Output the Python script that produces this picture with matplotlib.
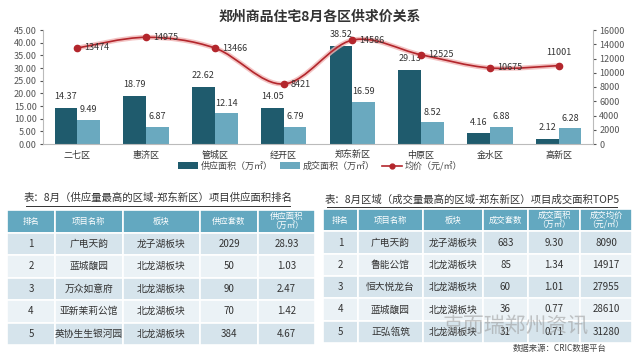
import matplotlib
matplotlib.use('Agg')
import matplotlib.pyplot as plt
import numpy as np
from matplotlib.path import Path
from matplotlib.patches import PathPatch
from matplotlib.lines import Line2D

plt.rcParams['font.family'] = ['Noto Sans CJK SC', 'DejaVu Sans']

# ---- data ----
districts = ['二七区', '惠济区', '管城区', '经开区', '郑东新区', '中原区', '金水区', '高新区']
supply = [14.37, 18.79, 22.62, 14.05, 38.52, 29.13, 4.16, 2.12]
deal = [9.49, 6.87, 12.14, 6.79, 16.59, 8.52, 6.88, 6.28]
price = [13474, 14975, 13466, 8421, 14586, 12525, 10675, 11001]

t1_title = '表：8月（供应量最高的区域-郑东新区）项目供应面积排名'
t1_cols = ['排名', '项目名称', '板块', '供应套数', '供应面积\n（万㎡）']
t1_rank = ['1', '2', '3', '4', '5']
t1_name = ['广电天韵', '蓝城馥园', '万众如意府', '亚新茉莉公馆', '英协生生银河园']
t1_area = ['龙子湖板块', '北龙湖板块', '北龙湖板块', '北龙湖板块', '北龙湖板块']
t1_units = ['2029', '50', '90', '70', '384']
t1_size = ['28.93', '1.03', '2.47', '1.42', '4.67']

t2_title = '表：8月区域（成交量最高的区域-郑东新区）项目成交面积TOP5'
t2_cols = ['排名', '项目名称', '板块', '成交套数', '成交面积\n（万㎡）', '成交均价\n（元/㎡）']
t2_rank = ['1', '2', '3', '4', '5']
t2_name = ['广电天韵', '鲁能公馆', '恒大悦龙台', '蓝城馥园', '正弘瓴筑']
t2_area = ['龙子湖板块', '北龙湖板块', '北龙湖板块', '北龙湖板块', '北龙湖板块']
t2_units = ['683', '85', '60', '36', '31']
t2_size = ['9.30', '1.34', '1.01', '0.77', '0.71']
t2_price = ['8090', '14917', '27955', '28610', '31280']

dark = '#1f5b6d'
light = '#6aa9bf'
red = '#b3262c'
grey = '#555555'

fig = plt.figure(figsize=(6.4, 3.53), dpi=100)

# ---- combo chart ----
ax = fig.add_axes([43/640, 1-144/353, 550/640, 114/353])
x = np.arange(len(districts))
w = 0.33
b1 = ax.bar(x - w/2, supply, w, color=dark, label='供应面积（万㎡）')
b2 = ax.bar(x + w/2, deal, w, color=light, label='成交面积（万㎡）')
for xi, v in zip(x, supply):
    ax.annotate(f'{v:.2f}', (xi - w/2, v), xytext=(0, 5), textcoords='offset points',
                ha='center', va='bottom', fontsize=6.5, color='#333333')
for xi, v in zip(x, deal):
    ax.annotate(f'{v:.2f}', (xi + w/2, v), xytext=(0, 4), textcoords='offset points',
                ha='center', va='bottom', fontsize=6.5, color='#333333')
ax.set_ylim(0, 45)
ax.set_yticks(np.arange(0, 46, 5))
ax.set_yticklabels([f'{v:.2f}' for v in np.arange(0, 46, 5)])
ax.set_xlim(-0.5, len(districts) - 0.5)
ax.set_xticks(x)
ax.set_xticklabels(districts)
ax.tick_params(axis='x', length=0, labelsize=6.5, colors='#333333', pad=5)
ax.tick_params(axis='y', length=2.5, labelsize=6.5, colors=grey, pad=2)
for s in ['top', 'right']:
    ax.spines[s].set_visible(False)
ax.spines['left'].set_color('#bbbbbb')
ax.spines['bottom'].set_color('#bbbbbb')

ax2 = ax.twinx()
ax2.set_ylim(0, 16000)
ax2.set_yticks(np.arange(0, 16001, 2000))
ax2.tick_params(axis='y', length=2.5, labelsize=6.5, colors=grey, pad=2)
for s in ['top', 'left', 'bottom']:
    ax2.spines[s].set_visible(False)
ax2.spines['right'].set_color('#bbbbbb')

# smooth curve through the price points (Catmull-Rom -> cubic Bezier)
px = x.astype(float)
py = np.array(price, dtype=float)
verts = [(px[0], py[0])]
codes = [Path.MOVETO]
for i in range(len(px) - 1):
    p0 = (px[max(i-1, 0)], py[max(i-1, 0)])
    p1 = (px[i], py[i])
    p2 = (px[i+1], py[i+1])
    p3 = (px[min(i+2, len(px)-1)], py[min(i+2, len(px)-1)])
    c1 = (p1[0] + (p2[0]-p0[0])/6, p1[1] + (p2[1]-p0[1])/6)
    c2 = (p2[0] - (p3[0]-p1[0])/6, p2[1] - (p3[1]-p1[1])/6)
    verts += [c1, c2, p2]
    codes += [Path.CURVE4] * 3
curve = Path(verts, codes)
ax2.add_patch(PathPatch(curve, fill=False, edgecolor='#f0b5b5', lw=3.5, alpha=0.8))
ax2.add_patch(PathPatch(curve, fill=False, edgecolor=red, lw=1.2))
ax2.plot(px, py, 'o', color=red, ms=4.5, zorder=5)
for i, (xi, v) in enumerate(zip(px, price)):
    if i == len(px) - 1:
        ax2.annotate(str(v), (xi, v), xytext=(0, 6), textcoords='offset points',
                     ha='center', va='bottom', fontsize=6.5, color='#333333')
    else:
        ax2.annotate(str(v), (xi, v), xytext=(5, 0), textcoords='offset points',
                     ha='left', va='center', fontsize=6.5, color='#333333')

fig.text(0.5, 1-17/353, '郑州商品住宅8月各区供求价关系', ha='center', va='center',
         fontsize=10, fontweight='bold', color='#333333')

handles = [b1, b2, Line2D([], [], color=red, marker='o', ms=3.5, lw=1.2)]
labels = ['供应面积（万㎡）', '成交面积（万㎡）', '均价（元/㎡）']
fig.legend(handles, labels, loc='center', bbox_to_anchor=(0.5, 1-166/353), ncol=3,
           frameon=False, fontsize=6.5, handlelength=2.2, handletextpad=0.3,
           columnspacing=0.8, labelcolor='#444444')

# ---- tables ----
hdr_col = '#63a8c0'
row_cols = ['#d6e4ec', '#ebf2f6']


def draw_table(rect, cols, rows, widths):
    tax = fig.add_axes(rect)
    tax.axis('off')
    tb = tax.table(cellText=rows, colLabels=cols, colWidths=widths,
                   cellLoc='center', bbox=[0, 0, 1, 1])
    tb.auto_set_font_size(False)
    for (r, c), cell in tb.get_celld().items():
        cell.set_edgecolor('white')
        cell.set_linewidth(1.2)
        if r == 0:
            cell.set_facecolor(hdr_col)
            cell.get_text().set_color('white')
            cell.get_text().set_fontsize(6)
            cell.get_text().set_linespacing(1.0)
        else:
            cell.set_facecolor(row_cols[(r - 1) % 2])
            cell.get_text().set_color('#333333')
            cell.get_text().set_fontsize(7)
    return tb


rows1 = [list(r) for r in zip(t1_rank, t1_name, t1_area, t1_units, t1_size)]
w1 = np.array([48, 68, 77, 58, 57], float)
draw_table([7/640, 1-345/353, 308/640, 135/353], t1_cols, rows1, w1/w1.sum())

rows2 = [list(r) for r in zip(t2_rank, t2_name, t2_area, t2_units, t2_size, t2_price)]
w2 = np.array([35, 65, 60, 45, 52, 52], float)
draw_table([323/640, 1-343/353, 309/640, 134/353], t2_cols, rows2, w2/w2.sum())

fig.text(158/640, 1-198/353, t1_title, ha='center', va='center', fontsize=7.5, color='#333333')
fig.add_artist(Line2D([26/640, 290/640], [1-206/353, 1-206/353], color='#333333', lw=0.7))
fig.text(472/640, 1-200/353, t2_title, ha='center', va='center', fontsize=7.5, color='#333333')
fig.add_artist(Line2D([327/640, 617/640], [1-207/353, 1-207/353], color='#333333', lw=0.7))

fig.text(515/640, 1-326/353, '克而瑞郑州资讯', ha='center', va='center', fontsize=15,
         color='#999999', alpha=0.55)
fig.text(560/640, 1-348/353, '数据来源：CRIC数据平台', ha='center', va='center',
         fontsize=6, color='#444444')

fig.savefig('out.png', dpi=100)
